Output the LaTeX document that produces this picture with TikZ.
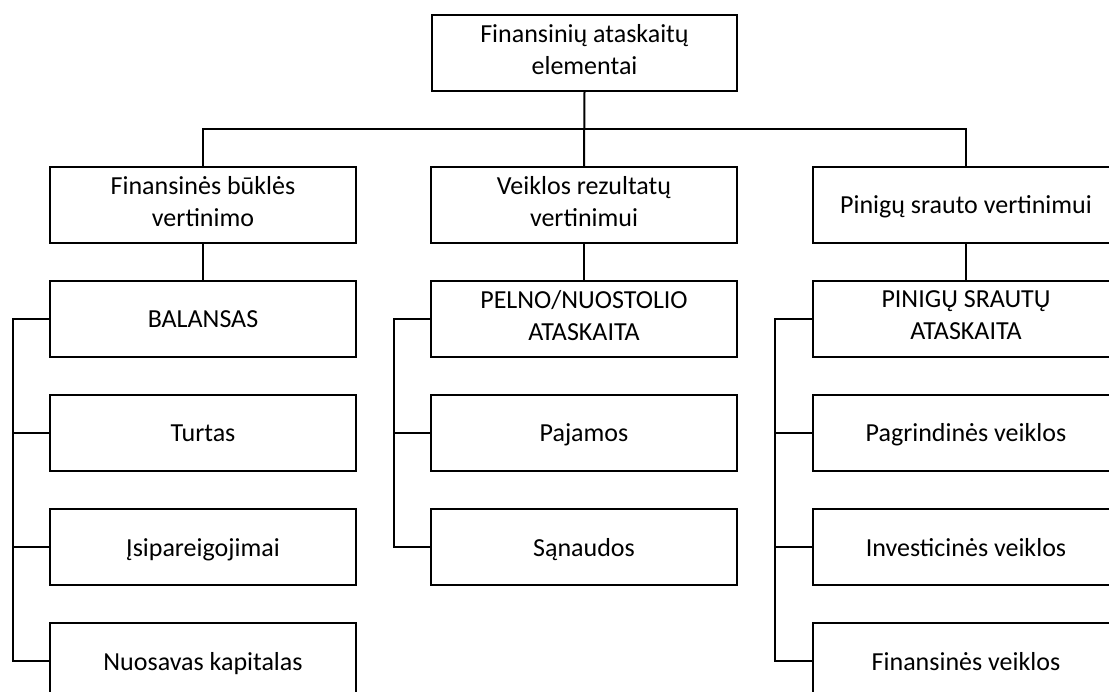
\documentclass[tikz,border=0pt]{standalone}
\usepackage{fontspec}
\setmainfont{Carlito}
\newcommand\boxstrut{\rule[-8pt]{0pt}{34pt}}
\begin{document}
\begin{tikzpicture}[x=1pt,y=-1pt,
  box/.style={draw=black,line width=1.6pt,minimum width=306pt,minimum height=76pt,
    inner sep=0pt,align=center,font=\fontsize{26}{32}\selectfont,
    execute at begin node=\boxstrut, execute at end node=\boxstrut},
  link/.style={draw=black,line width=2pt}]
\useasboundingbox (0,0) rectangle (1109,692);
\clip (0,0) rectangle (1109,692);
\fill[white] (0,0) rectangle (1109,692);
% top
\node[box,minimum width=305pt] (top) at (584.5,53) {Finansinių ataskaitų\\elementai};
% left column
\node[box] (L1) at (203,205) {Finansinės būklės\\vertinimo};
\node[box] (L2) at (203,319) {BALANSAS};
\node[box] (L3) at (203,433) {Turtas};
\node[box] (L4) at (203,547) {Įsipareigojimai};
\node[box] (L5) at (203,661) {Nuosavas kapitalas};
% middle column
\node[box] (M1) at (584,205) {Veiklos rezultatų\\vertinimui};
\node[box] (M2) at (584,319) {PELNO/NUOSTOLIO\\ATASKAITA};
\node[box] (M3) at (584,433) {Pajamos};
\node[box] (M4) at (584,547) {Sąnaudos};
% right column
\node[box] (R1) at (966,205) {Pinigų srauto vertinimui};
\node[box] (R2) at (966,319) {PINIGŲ SRAUTŲ\\ATASKAITA};
\node[box] (R3) at (966,433) {Pagrindinės veiklos};
\node[box] (R4) at (966,547) {Investicinės veiklos};
\node[box] (R5) at (966,661) {Finansinės veiklos};
% connectors
\coordinate (bus) at (584,129);
\coordinate (sL) at (13,0);
\coordinate (sM) at (394,0);
\coordinate (sR) at (775,0);
\draw[link] (top.south) -- (M1.north);
\draw[link] (L1.north) |- (bus) -| (R1.north);
\draw[link] (L1.south) -- (L2.north);
\draw[link] (M1.south) -- (M2.north);
\draw[link] (R1.south) -- (R2.north);
% left spine
\draw[link] (L2.west) -- (L2.west -| sL) -- (L5.west -| sL) -- (L5.west);
\draw[link] (L3.west) -- (L3.west -| sL);
\draw[link] (L4.west) -- (L4.west -| sL);
% middle spine
\draw[link] (M2.west) -- (M2.west -| sM) -- (M4.west -| sM) -- (M4.west);
\draw[link] (M3.west) -- (M3.west -| sM);
% right spine
\draw[link] (R2.west) -- (R2.west -| sR) -- (R5.west -| sR) -- (R5.west);
\draw[link] (R3.west) -- (R3.west -| sR);
\draw[link] (R4.west) -- (R4.west -| sR);
\end{tikzpicture}
\end{document}
